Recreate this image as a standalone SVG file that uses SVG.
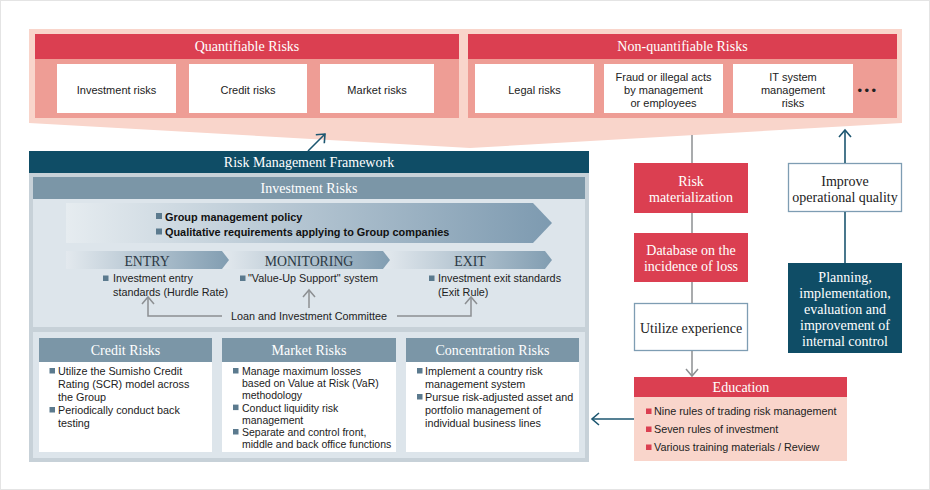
<svg xmlns="http://www.w3.org/2000/svg" width="930" height="490" viewBox="0 0 930 490">
<defs>
<style>
.sf{font-family:"Liberation Serif","Times New Roman",serif}
.ss{font-family:"Liberation Sans",Arial,sans-serif}
.hw{fill:#fff;font-size:14px;text-anchor:middle}
.hd{fill:#2b3843;font-size:13.8px;text-anchor:middle}
.bt{font-size:11px;fill:#222;text-anchor:middle}
.li{font-size:10.8px;fill:#222}
.lb{font-size:10.9px;fill:#111;font-weight:bold}
.wb{fill:#fff}
.red{fill:#db3f51}
.salmon{fill:#ee9d95}
.pink{fill:#f9d5cb}
.teal{fill:#0f4d66}
.bg{fill:#7b96a7}
.sec{fill:#dde5eb}
.bul{fill:#5b7a8e}
.rbul{fill:#db3f51}
.ob{fill:#fff;stroke:#7e9db3;stroke-width:1.3}
.cg{fill:none;stroke:#8c8f92;stroke-width:1.5}
.ct{fill:none;stroke:#1c5670;stroke-width:1.6}
</style>
<linearGradient id="gBig" x1="0" y1="0" x2="1" y2="0">
<stop offset="0" stop-color="#e6ecf0"/>
<stop offset="1" stop-color="#7d9ab0"/>
</linearGradient>
<linearGradient id="gChev" x1="0" y1="0" x2="1" y2="0">
<stop offset="0" stop-color="#e3e9ee"/>
<stop offset="1" stop-color="#819db1"/>
</linearGradient>
<marker id="mT" viewBox="0 0 14 14" refX="11" refY="7" markerWidth="14" markerHeight="14" markerUnits="userSpaceOnUse" orient="auto">
<path d="M4,1 L11,7 L4,13" fill="none" stroke="#1c5670" stroke-width="1.6"/>
</marker>
<marker id="mG" viewBox="0 0 14 14" refX="11" refY="7" markerWidth="14" markerHeight="14" markerUnits="userSpaceOnUse" orient="auto">
<path d="M4,1 L11,7 L4,13" fill="none" stroke="#8c8f92" stroke-width="1.5"/>
</marker>
</defs>

<rect x="0.5" y="0.5" width="929" height="489" fill="#fff" stroke="#e4e4e4"/>

<g id="risk-universe">
<polygon points="29,29 902,29 902,123 470,148 29,123" class="pink"/>
</g>

<g id="quantifiable-risks">
<rect x="35" y="34" width="424" height="84" class="salmon"/>
<rect x="35" y="34" width="424" height="25" class="red"/>
<text x="247" y="51" class="sf hw">Quantifiable Risks</text>
</g>
<g id="investment-risks-box">
<rect x="57" y="64" width="119" height="49" class="wb"/>
<text x="116.5" y="94" class="ss bt">Investment risks</text>
</g>
<g id="credit-risks-box">
<rect x="189" y="64" width="118" height="49" class="wb"/>
<text x="248" y="94" class="ss bt">Credit risks</text>
</g>
<g id="market-risks-box">
<rect x="320" y="64" width="114" height="49" class="wb"/>
<text x="377" y="94" class="ss bt">Market risks</text>
</g>

<g id="non-quantifiable-risks">
<rect x="468" y="34" width="429" height="84" class="salmon"/>
<rect x="468" y="34" width="429" height="25" class="red"/>
<text x="682.5" y="51" class="sf hw">Non-quantifiable Risks</text>
<text x="868" y="95" class="ss" style="font-size:13px;fill:#222;text-anchor:middle;letter-spacing:2.5px">•••</text>
</g>
<g id="legal-risks-box">
<rect x="475" y="64" width="119" height="49" class="wb"/>
<text x="534.5" y="94" class="ss bt">Legal risks</text>
</g>
<g id="fraud-box">
<rect x="604" y="64" width="119" height="49" class="wb"/>
<text x="663.5" y="81" class="ss bt">Fraud or illegal acts</text>
<text x="663.5" y="94" class="ss bt">by management</text>
<text x="663.5" y="107" class="ss bt">or employees</text>
</g>
<g id="it-system-box">
<rect x="733" y="64" width="120" height="49" class="wb"/>
<text x="793" y="81" class="ss bt">IT system</text>
<text x="793" y="94" class="ss bt">management</text>
<text x="793" y="107" class="ss bt">risks</text>
</g>

<g id="risk-management-framework">
<rect x="29" y="173" width="560" height="289" fill="#c7d1d8"/>
<rect x="29" y="151" width="560" height="22" class="teal"/>
<text x="309" y="166.5" class="sf hw">Risk Management Framework</text>
</g>

<g id="investment-risks-section">
<rect x="33" y="177" width="552" height="150" class="sec"/>
<rect x="33" y="177" width="552" height="22" class="bg"/>
<text x="309" y="193" class="sf hw">Investment Risks</text>
<polygon points="66,203 533,203 552,223 533,243 66,243" fill="url(#gBig)"/>
<rect x="156" y="213" width="6" height="6" class="bul"/>
<text x="165" y="221" class="ss lb">Group management policy</text>
<rect x="156" y="228.5" width="6" height="6" class="bul"/>
<text x="165" y="236" class="ss lb">Qualitative requirements applying to Group companies</text>
</g>

<g id="exit">
<polygon points="383,251 545,251 552,260 545,269 383,269" fill="url(#gChev)"/>
<text x="470" y="266" class="sf hd">EXIT</text>
<rect x="429" y="275.5" width="5.5" height="5.5" class="bul"/>
<text x="438" y="282" class="ss li">Investment exit standards</text>
<text x="438" y="296" class="ss li">(Exit Rule)</text>
</g>
<g id="monitoring">
<polygon points="222,251 383,251 390,260 383,269 222,269" fill="url(#gChev)"/>
<text x="309" y="266" class="sf hd">MONITORING</text>
<rect x="240" y="275.5" width="5.5" height="5.5" class="bul"/>
<text x="248" y="282" class="ss li">"Value-Up Support" system</text>
</g>
<g id="entry">
<polygon points="66,251 222,251 229,260 222,269 66,269" fill="url(#gChev)"/>
<text x="147" y="266" class="sf hd">ENTRY</text>
<rect x="103" y="275.5" width="5.5" height="5.5" class="bul"/>
<text x="113" y="282" class="ss li">Investment entry</text>
<text x="113" y="296" class="ss li">standards (Hurdle Rate)</text>
</g>
<g id="loan-committee">
<text x="309" y="320" class="ss li" style="text-anchor:middle">Loan and Investment Committee</text>
</g>

<g id="lower-section">
<rect x="33" y="332" width="552" height="126" class="sec"/>
</g>
<g id="credit-risks">
<rect x="39" y="362" width="173" height="90" class="wb"/>
<rect x="39" y="338" width="173" height="24" class="bg"/>
<text x="125.5" y="355" class="sf hw">Credit Risks</text>
<rect x="49.5" y="368" width="5.5" height="5.5" class="bul"/>
<text x="58" y="375" class="ss li">Utilize the Sumisho Credit</text>
<text x="58" y="388" class="ss li">Rating (SCR) model across</text>
<text x="58" y="401" class="ss li">the Group</text>
<rect x="49.5" y="407" width="5.5" height="5.5" class="bul"/>
<text x="58" y="414" class="ss li">Periodically conduct back</text>
<text x="58" y="427" class="ss li">testing</text>
</g>
<g id="market-risks">
<rect x="222" y="362" width="174" height="90" class="wb"/>
<rect x="222" y="338" width="174" height="24" class="bg"/>
<text x="309" y="355" class="sf hw">Market Risks</text>
<g style="font-size:10.5px">
<rect x="233" y="368" width="5.5" height="5.5" class="bul"/>
<text x="242" y="375" class="ss li" style="font-size:10.5px">Manage maximum losses</text>
<text x="242" y="387.2" class="ss li" style="font-size:10.5px">based on Value at Risk (VaR)</text>
<text x="242" y="399.4" class="ss li" style="font-size:10.5px">methodology</text>
<rect x="233" y="404.6" width="5.5" height="5.5" class="bul"/>
<text x="242" y="411.6" class="ss li" style="font-size:10.5px">Conduct liquidity risk</text>
<text x="242" y="423.8" class="ss li" style="font-size:10.5px">management</text>
<rect x="233" y="429" width="5.5" height="5.5" class="bul"/>
<text x="242" y="436" class="ss li" style="font-size:10.5px">Separate and control front,</text>
<text x="242" y="448.2" class="ss li" style="font-size:10.5px">middle and back office functions</text>
</g>
</g>
<g id="concentration-risks">
<rect x="406" y="362" width="173" height="90" class="wb"/>
<rect x="406" y="338" width="173" height="24" class="bg"/>
<text x="492.5" y="355" class="sf hw">Concentration Risks</text>
<rect x="417" y="368" width="5.5" height="5.5" class="bul"/>
<text x="425" y="375" class="ss li">Implement a country risk</text>
<text x="425" y="388" class="ss li">management system</text>
<rect x="417" y="394" width="5.5" height="5.5" class="bul"/>
<text x="425" y="401" class="ss li">Pursue risk-adjusted asset and</text>
<text x="425" y="414" class="ss li">portfolio management of</text>
<text x="425" y="427" class="ss li">individual business lines</text>
</g>

<g id="risk-materialization">
<rect x="634" y="163" width="114" height="50" class="red"/>
<text x="691" y="185.5" class="sf hw">Risk</text>
<text x="691" y="201.5" class="sf hw">materialization</text>
</g>
<g id="loss-database">
<rect x="634" y="233" width="114" height="49" class="red"/>
<text x="691" y="254.5" class="sf hw">Database on the</text>
<text x="691" y="270.5" class="sf hw">incidence of loss</text>
</g>
<g id="utilize-experience">
<rect x="634.5" y="303.5" width="113" height="47" class="ob"/>
<text x="691" y="332.5" class="sf hw" style="fill:#222">Utilize experience</text>
</g>
<g id="education">
<rect x="634" y="397" width="213" height="64" class="pink"/>
<rect x="634" y="377" width="213" height="20" class="red"/>
<text x="741" y="392" class="sf hw">Education</text>
<rect x="646" y="408.5" width="5.5" height="5.5" class="rbul"/>
<text x="654" y="415" class="ss li">Nine rules of trading risk management</text>
<rect x="646" y="426.5" width="5.5" height="5.5" class="rbul"/>
<text x="654" y="433" class="ss li">Seven rules of investment</text>
<rect x="646" y="444.5" width="5.5" height="5.5" class="rbul"/>
<text x="654" y="451" class="ss li">Various training materials / Review</text>
</g>
<g id="improve-quality">
<rect x="788.5" y="163.5" width="113" height="48" class="ob"/>
<text x="845" y="185.5" class="sf hw" style="fill:#222">Improve</text>
<text x="845" y="201.5" class="sf hw" style="fill:#222">operational quality</text>
</g>
<g id="internal-control">
<rect x="788" y="263" width="114" height="90" class="teal"/>
<text x="845" y="281.5" class="sf hw">Planning,</text>
<text x="845" y="297.5" class="sf hw">implementation,</text>
<text x="845" y="313.5" class="sf hw">evaluation and</text>
<text x="845" y="329.5" class="sf hw">improvement of</text>
<text x="845" y="345.5" class="sf hw">internal control</text>
</g>

<g id="connectors">
<line x1="308" y1="151" x2="325" y2="134" class="ct" marker-end="url(#mT)"/>
<polyline points="222,316 148,316 148,297" class="cg" marker-end="url(#mG)"/>
<polyline points="397,316 471,316 471,297" class="cg" marker-end="url(#mG)"/>
<line x1="309" y1="308" x2="309" y2="290" class="cg" marker-end="url(#mG)"/>
<line x1="692" y1="135" x2="692" y2="163" class="cg"/>
<line x1="692" y1="213" x2="692" y2="233" class="cg"/>
<line x1="692" y1="282" x2="692" y2="303" class="cg"/>
<line x1="692" y1="351" x2="692" y2="376" class="cg" marker-end="url(#mG)"/>
<line x1="634" y1="419" x2="592" y2="419" class="ct" marker-end="url(#mT)"/>
<line x1="845" y1="263" x2="845" y2="212" class="ct"/>
<line x1="845" y1="163" x2="845" y2="130" class="ct" marker-end="url(#mT)"/>
</g>
</svg>
